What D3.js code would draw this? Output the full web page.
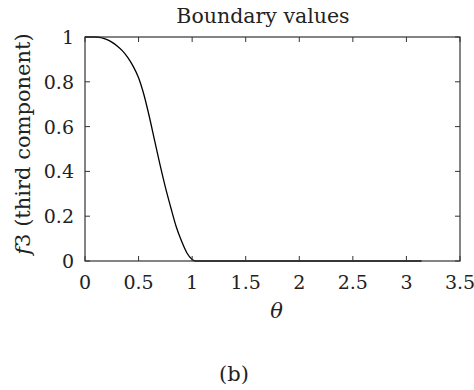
<!DOCTYPE html>
<html>

<head>
    <script src="https://d3js.org/d3.v7.min.js"></script>
    <title>Boundary values</title>
    <style>
        body { margin: 0; background: #fff; }
        text { font-family: "DejaVu Serif", serif; fill: #222; }
    </style>
</head>

<body>
    <svg></svg>
    <script>
        // values
        const thetaValues = [0, 0.1, 0.15, 0.2, 0.25, 0.3, 0.35, 0.4, 0.45, 0.5, 0.55, 0.6, 0.65, 0.7,
            0.75, 0.8, 0.85, 0.9, 0.95, 1.0, 1.03, 1.2, 2.0, 3.1416];
        const f3Values = [1, 1, 0.997, 0.989, 0.977, 0.96, 0.938, 0.908, 0.869, 0.818, 0.742, 0.645, 0.537, 0.43,
            0.33, 0.24, 0.155, 0.09, 0.037, 0.007, 0, 0, 0, 0];
        const xTicks = [0, 0.5, 1, 1.5, 2, 2.5, 3, 3.5];
        const yTicks = [0, 0.2, 0.4, 0.6, 0.8, 1];

        const width = 474;
        const height = 390;
        const margin = { top: 37, right: 14, bottom: 129, left: 85 };
        const innerW = width - margin.left - margin.right;
        const innerH = height - margin.top - margin.bottom;

        const svg = d3.select("svg")
            .attr("width", width)
            .attr("height", height);
        const g = svg.append("g")
            .attr("transform", `translate(${margin.left},${margin.top})`);

        const x = d3.scaleLinear().domain([0, 3.5]).range([0, innerW]);
        const y = d3.scaleLinear().domain([0, 1]).range([innerH, 0]);

        const points = thetaValues.map(function (t, i) {
            return [t, f3Values[i]];
        });

        const line = d3.line()
            .x(function (d) { return x(d[0]); })
            .y(function (d) { return y(d[1]); })
            .curve(d3.curveMonotoneX);

        g.append("path")
            .datum(points)
            .attr("fill", "none")
            .attr("stroke", "#000")
            .attr("stroke-width", 1.3)
            .attr("d", line);

        // box with inward ticks on all sides
        const axisColor = "#333";
        const tick = 5;
        g.append("rect")
            .attr("width", innerW)
            .attr("height", innerH)
            .attr("fill", "none")
            .attr("stroke", axisColor)
            .attr("stroke-width", 1.2);

        g.selectAll(".xt")
            .data(xTicks)
            .enter()
            .append("path")
            .attr("stroke", axisColor)
            .attr("d", function (d) {
                const px = x(d);
                return `M${px},${innerH}v${-tick}M${px},0v${tick}`;
            });
        g.selectAll(".yt")
            .data(yTicks)
            .enter()
            .append("path")
            .attr("stroke", axisColor)
            .attr("d", function (d) {
                const py = y(d);
                return `M0,${py}h${tick}M${innerW},${py}h${-tick}`;
            });

        g.selectAll(".xl")
            .data(xTicks)
            .enter()
            .append("text")
            .attr("x", function (d) { return x(d); })
            .attr("y", innerH + 28)
            .attr("text-anchor", "middle")
            .attr("font-size", 19)
            .text(function (d) { return d; });
        g.selectAll(".yl")
            .data(yTicks)
            .enter()
            .append("text")
            .attr("x", -11)
            .attr("y", function (d) { return y(d) + 7; })
            .attr("text-anchor", "end")
            .attr("font-size", 19)
            .text(function (d) { return d; });

        svg.append("text")
            .attr("x", 263)
            .attr("y", 23)
            .attr("text-anchor", "middle")
            .attr("font-size", 20.5)
            .text("Boundary values");

        g.append("text")
            .attr("x", innerW / 2 + 4)
            .attr("y", innerH + 57)
            .attr("text-anchor", "middle")
            .attr("font-size", 21)
            .attr("font-style", "italic")
            .text("θ");

        const ylab = svg.append("text")
            .attr("transform", `translate(30,144) rotate(-90)`)
            .attr("text-anchor", "middle")
            .attr("font-size", 21)
        ylab.append("tspan").attr("font-style", "italic").text("f");
        ylab.append("tspan").text("3 (third component)");

        svg.append("text")
            .attr("x", 234)
            .attr("y", 381)
            .attr("text-anchor", "middle")
            .attr("font-size", 21)
            .text("(b)");
    </script>
</body>

</html>
